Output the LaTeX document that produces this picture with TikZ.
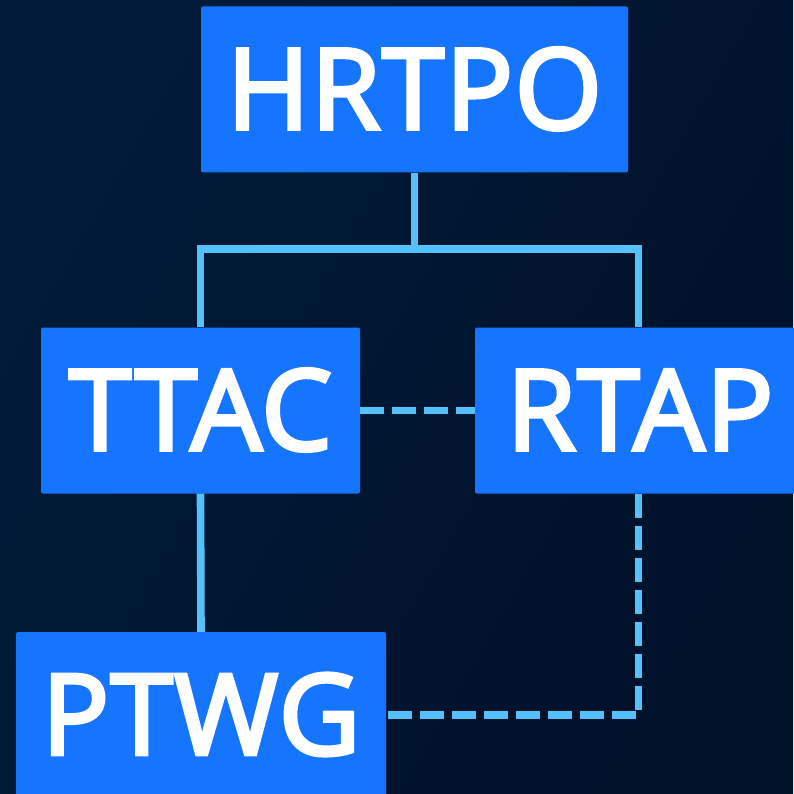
\documentclass[tikz,border=0pt]{standalone}
\usepackage{fontspec}
\setmainfont{Open Sans}
\newfontfamily\labfont{Open Sans}[FakeBold=3.5,LetterSpace=1.5]
\begin{document}
\begin{tikzpicture}[x=1pt,y=-1pt,
  box/.style={fill=boxblue,rounded corners=2pt,inner sep=0pt,text=white,
    font=\labfont\fontsize{112}{112}\selectfont,text height=79pt,text depth=0pt,
    minimum height=166pt},
  link/.style={draw=lineblue,line width=7.6pt},
  dlink/.style={link,dash pattern=on 24pt off 8pt}]
\definecolor{boxblue}{HTML}{1575FE}
\definecolor{lineblue}{HTML}{55C1F9}
\definecolor{bgA}{HTML}{021B39}
\definecolor{bgB}{HTML}{00112A}
\useasboundingbox (0,0) rectangle (793,794);
\shade[left color=bgA,right color=bgB,shading angle=60] (0,0) rectangle (793,794);
% boxes
\node[box,minimum width=427pt] (hrtpo) at (414.5,89.5) {HRTPO};
\node[box,minimum width=319pt] (ttac) at (200.5,410.5) {TTAC};
\node[box,minimum width=330pt] (rtap) at (640,410.5) {RTAP};
\node[box,minimum width=370pt] (ptwg) at (201,715) {PTWG};
% connector points
\coordinate (bus) at (414.5,249);
\coordinate (rtapT) at (rtap.north -| 638.5,0);
\coordinate (rtapB) at (rtap.south -| 638.5,0);
% connectors
\draw[link] (hrtpo.south) -- (bus);
\draw[link] (ttac.north) |- (bus) -| (rtapT);
\draw[link] (ttac.south) -- (ptwg.north);
\draw[dlink] (ttac.east) -- (rtap.west);
\draw[dlink] (rtapB) |- (ptwg.east);
\end{tikzpicture}
\end{document}
